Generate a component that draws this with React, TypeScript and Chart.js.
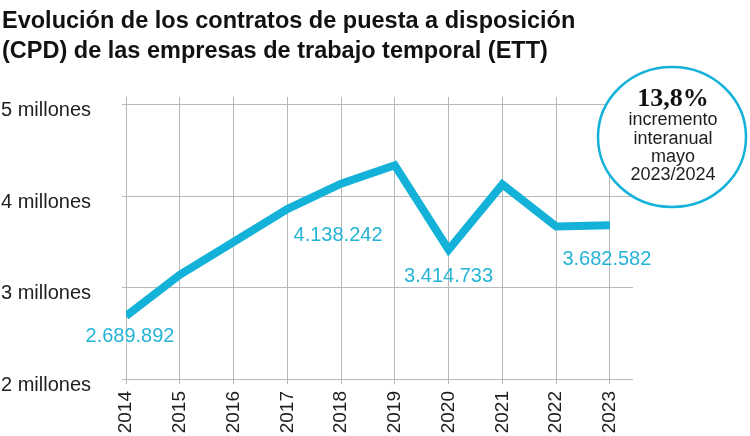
import React, { useEffect, useRef } from "react";
import { Chart, registerables } from "chart.js";

Chart.register(...registerables);

// ---- data ----
const years: number[] = [2014, 2015, 2016, 2017, 2018, 2019, 2020, 2021, 2022, 2023];
const contracts: number[] = [2689892, 3140000, 3500000, 3860000, 4138242, 4340000, 3414733, 4130000, 3670000, 3682582];
const yTickValues: number[] = [2000000, 3000000, 4000000, 5000000];
const yTickLabels: string[] = ["2 millones", "3 millones", "4 millones", "5 millones"];
const labeledYears: number[] = [2014, 2018, 2020, 2023];
const titleLines: string[] = [
  "Evolución de los contratos de puesta a disposición",
  "(CPD) de las empresas de trabajo temporal (ETT)",
];
const badgeValue = "13,8%";
const badgeLines: string[] = ["incremento", "interanual", "mayo", "2023/2024"];

// ---- styles ----
const TEAL = "#14b1d8";
const LABEL_TEAL = "#25b4d6";
const GRID = "#b8b8b8";
const TEXT = "#1e1e1e";
const SANS = "'Liberation Sans', Arial, Helvetica, sans-serif";
const labelOffsets: { dx: number; dy: number }[] = [
  { dx: 4, dy: 21 },
  { dx: -3, dy: 52 },
  { dx: 0, dy: 27 },
  { dx: -3, dy: 34 },
];

function formatEs(v: number): string {
  return String(Math.round(v)).replace(/\B(?=(\d{3})+(?!\d))/g, ".");
}

const overlayPlugin = {
  id: "overlay",
  afterDraw(chart: any) {
    const ctx: CanvasRenderingContext2D = chart.ctx;
    ctx.save();
    // title
    ctx.fillStyle = "#111";
    ctx.font = `bold 23.5px ${SANS}`;
    ctx.textAlign = "left";
    ctx.textBaseline = "alphabetic";
    ctx.fillText(titleLines[0], 2, 28);
    ctx.fillText(titleLines[1], 2, 58);

    // value labels
    const meta = chart.getDatasetMeta(0);
    ctx.font = `20px ${SANS}`;
    ctx.fillStyle = LABEL_TEAL;
    ctx.textAlign = "center";
    ctx.textBaseline = "middle";
    labeledYears.forEach((yr, k) => {
      const idx = years.indexOf(yr);
      const pt = meta.data[idx];
      if (!pt) return;
      const off = labelOffsets[k];
      ctx.fillText(formatEs(contracts[idx]), pt.x + off.dx, pt.y + off.dy);
    });

    // badge
    const cx = 672;
    const cy = 137;
    ctx.beginPath();
    ctx.ellipse(cx, cy, 74, 70, 0, 0, Math.PI * 2);
    ctx.fillStyle = "#ffffff";
    ctx.fill();
    ctx.lineWidth = 2.5;
    ctx.strokeStyle = TEAL;
    ctx.stroke();

    ctx.fillStyle = "#111";
    ctx.textAlign = "center";
    ctx.textBaseline = "alphabetic";
    ctx.font = `bold 26px 'Liberation Serif', 'DejaVu Serif', serif`;
    ctx.fillText(badgeValue, cx + 1, 106);
    ctx.font = `18px ${SANS}`;
    ctx.fillStyle = TEXT;
    const baselines = [125, 143.5, 162, 180];
    badgeLines.forEach((t, i) => ctx.fillText(t, cx + 1, baselines[i]));
    ctx.restore();
  },
};

export default function App() {
  const ref = useRef<HTMLCanvasElement | null>(null);

  useEffect(() => {
    if (!ref.current) return;
    const chart = new Chart(ref.current, {
      type: "line",
      data: {
        datasets: [
          {
            label: "CPD",
            data: years.map((x, i) => ({ x, y: contracts[i] })),
            borderColor: TEAL,
            borderWidth: 8,
            pointRadius: 0,
            pointHoverRadius: 0,
            tension: 0,
            borderJoinStyle: "miter",
            borderCapStyle: "butt",
            fill: false,
          },
        ],
      },
      options: {
        responsive: false,
        animation: false,
        events: [],
        layout: { padding: { left: 1, right: 117, top: 97, bottom: 0 } },
        plugins: {
          legend: { display: false },
          title: { display: false },
          tooltip: { enabled: false },
        },
        scales: {
          x: {
            type: "linear",
            min: 2014,
            max: 2023.43,
            afterBuildTicks: (s: any) => {
              s.ticks = years.map((v) => ({ value: v }));
            },
            afterFit: (s: any) => {
              s.height = 57;
            },
            ticks: {
              autoSkip: false,
              minRotation: 90,
              maxRotation: 90,
              padding: 7,
              color: TEXT,
              font: { family: SANS, size: 19 },
              callback: (v: any) => String(v),
            },
            grid: { color: GRID, lineWidth: 1, tickLength: 5 },
            border: { display: false },
          },
          y: {
            type: "linear",
            min: 2000000,
            max: 5087000,
            afterBuildTicks: (s: any) => {
              s.ticks = yTickValues.map((v) => ({ value: v }));
            },
            afterFit: (s: any) => {
              s.width = 125;
            },
            ticks: {
              crossAlign: "far",
              padding: 0,
              color: TEXT,
              font: { family: SANS, size: 20, lineHeight: 0.6 },
              callback: (v: any) => {
                const i = yTickValues.indexOf(Number(v));
                return i >= 0 ? ["", yTickLabels[i]] : "";
              },
            },
            grid: { color: GRID, lineWidth: 1, tickLength: 4 },
            border: { display: false },
          },
        },
      },
      plugins: [overlayPlugin],
    } as any);
    return () => chart.destroy();
  }, []);

  return (
    <div style={{ position: "absolute", left: 0, top: 0, width: 750, height: 436, background: "#fff" }}>
      <canvas ref={ref} width={750} height={436} style={{ display: "block" }} />
    </div>
  );
}
